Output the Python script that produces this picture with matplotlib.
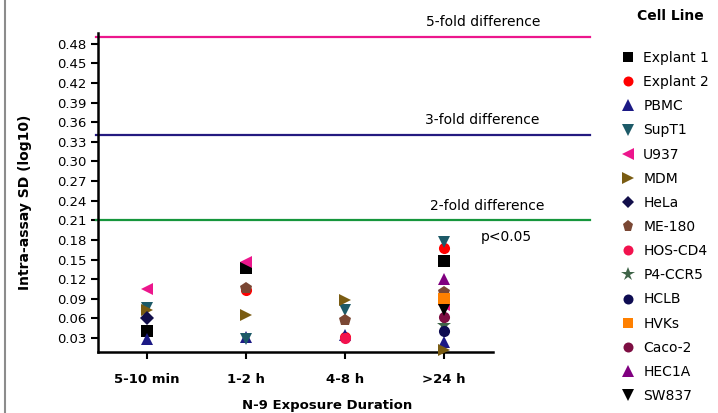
import numpy as np
import matplotlib
matplotlib.use("Agg")
import matplotlib.pyplot as plt
from matplotlib.lines import Line2D

plt.rcParams['font.family'] = ['DejaVu Sans']

durations = ["5-10 min", "1-2 h", "4-8 h", ">24 h"]
nan = np.nan

# SD values per cell line, one entry per exposure duration (nan = not tested)
explant1 = [0.040, 0.137, nan, 0.148]
explant2 = [nan, 0.103, 0.031, 0.167]
pbmc = [0.028, 0.032, 0.035, 0.024]
supt1 = [0.076, 0.029, 0.073, 0.177]
u937 = [0.105, 0.146, nan, 0.080]
mdm = [0.073, 0.065, 0.088, 0.012]
hela = [0.060, nan, nan, nan]
me180 = [nan, 0.107, 0.058, 0.101]
hoscd4 = [nan, nan, 0.030, nan]
p4ccr5 = [nan, nan, nan, 0.050]
hclb = [nan, nan, nan, 0.040]
hvks = [nan, nan, nan, 0.089]
caco2 = [nan, nan, nan, 0.062]
hec1a = [nan, nan, nan, 0.120]
sw837 = [nan, nan, nan, 0.073]

cell_lines = ["Explant 1", "Explant 2", "PBMC", "SupT1", "U937", "MDM", "HeLa",
              "ME-180", "HOS-CD4", "P4-CCR5", "HCLB", "HVKs", "Caco-2", "HEC1A", "SW837"]
series = [explant1, explant2, pbmc, supt1, u937, mdm, hela, me180, hoscd4,
          p4ccr5, hclb, hvks, caco2, hec1a, sw837]

# threshold lines (fold difference -> SD)
fold_labels = ["5-fold difference", "3-fold difference", "2-fold difference"]
fold_values = [0.490, 0.340, 0.210]

styles = [
    ("s", "#000000", 8),
    ("o", "#FF0000", 8),
    ("^", "#1C1A85", 9),
    ("v", "#1D5A68", 9),
    ("<", "#EC168C", 9),
    (">", "#7A5C12", 9),
    ("D", "#120E4A", 7),
    ("p", "#7A4734", 9),
    ("o", "#F2124E", 8),
    ("*", "#3F6448", 11),
    ("o", "#0E0C52", 8),
    ("s", "#FF8000", 8),
    ("o", "#7D0E42", 8),
    ("^", "#800080", 9),
    ("v", "#000000", 9),
]
fold_colors = ["#EC168C", "#241A80", "#16963C"]

W, H = 718, 413
fig = plt.figure(figsize=(W / 100, H / 100), dpi=100)
ax = fig.add_axes([97.7 / W, 1 - 351.7 / H, (493 - 97.7) / W, (351.7 - 32.7) / H])

x = np.arange(1, len(durations) + 1)
handles = []
for name, vals, (m, c, ms) in zip(cell_lines, series, styles):
    h, = ax.plot(x, vals, linestyle="none", marker=m, color=c, markersize=ms,
                 markeredgewidth=0, label=name, clip_on=False, zorder=3)
    handles.append(h)

ytr = ax.get_yaxis_transform()
for val, col in zip(fold_values, fold_colors):
    ax.plot([-0.005, 1.245], [val, val], color=col, lw=1.6, transform=ytr,
            clip_on=False, zorder=2)

ax.set_xlim(0.5, 4.5)
ax.set_ylim(0.009, 0.497)
ax.set_xticks(x)
ax.set_xticklabels(durations, fontsize=9.5, fontweight="bold")
yt = np.arange(0.03, 0.481, 0.03)
ax.set_yticks(yt)
ax.set_yticklabels([f"{v:.2f}" for v in yt], fontsize=9.5)
ax.tick_params(axis="y", direction="out", length=5, width=1.5, pad=3)
ax.tick_params(axis="x", direction="out", length=5, width=1.5, pad=10)
for s in ("top", "right"):
    ax.spines[s].set_visible(False)
for s in ("left", "bottom"):
    ax.spines[s].set_linewidth(1.8)

ax.set_ylabel("Intra-assay SD (log10)", fontsize=10, fontweight="bold")
ax.yaxis.set_label_coords(-0.166, 0.469)
ax.set_xlabel("N-9 Exposure Duration", fontsize=9.5, fontweight="bold")
ax.xaxis.set_label_coords(0.58, -0.148)

# threshold annotations
fig.text(483 / W, 1 - 22 / H, fold_labels[0], fontsize=10, ha="center", va="center")
fig.text(482 / W, 1 - 120 / H, fold_labels[1], fontsize=10, ha="center", va="center")
fig.text(487 / W, 1 - 206 / H, fold_labels[2], fontsize=10, ha="center", va="center")
fig.text(481 / W, 1 - 237 / H, "p<0.05", fontsize=10, ha="left", va="center")

# legend
fig.text(670 / W, 1 - 16 / H, "Cell Line", fontsize=10, fontweight="bold",
         ha="center", va="center")
leg = fig.legend(handles=handles, loc="upper left",
                 bbox_to_anchor=(621 / W, 1 - 51 / H), frameon=False,
                 fontsize=10, labelspacing=0.73, handlelength=1.0,
                 handletextpad=0.6, borderaxespad=0, borderpad=0,
                 markerscale=0.9)

# frame edge at the left of the panel
fig.add_artist(Line2D([5 / W, 5 / W], [0, 1], color="#8C8C8C", lw=1.5,
                      transform=fig.transFigure))

fig.savefig("out.png", dpi=100)
